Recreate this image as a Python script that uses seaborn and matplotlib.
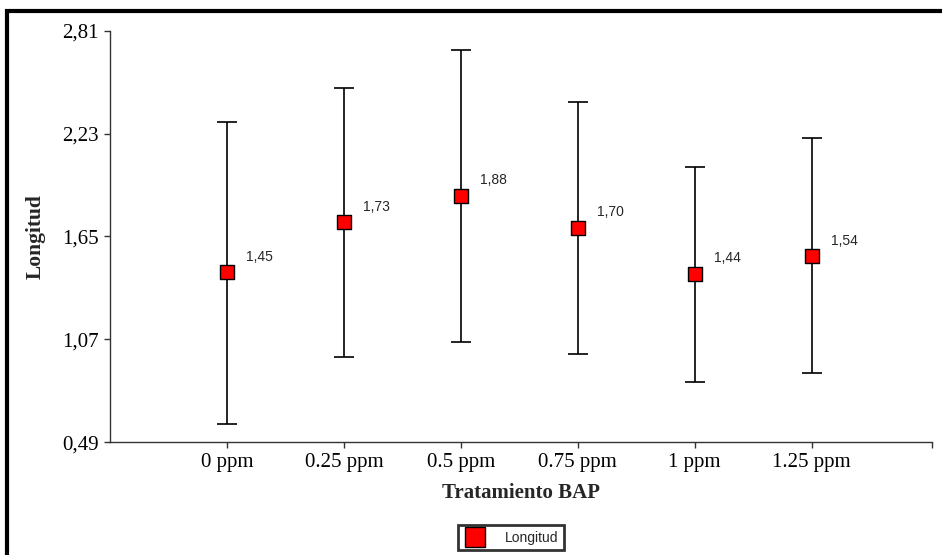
import matplotlib
matplotlib.use("Agg")
import matplotlib.pyplot as plt
import seaborn as sns
import pandas as pd
from matplotlib.patches import Rectangle
from matplotlib.lines import Line2D

categories = ["0 ppm", "0.25 ppm", "0.5 ppm", "0.75 ppm", "1 ppm", "1.25 ppm"]
means = [1.45, 1.73, 1.88, 1.70, 1.44, 1.54]
lower = [0.595, 0.971, 1.055, 0.989, 0.828, 0.882]
upper = [2.295, 2.485, 2.699, 2.406, 2.044, 2.203]
labels = ["1,45", "1,73", "1,88", "1,70", "1,44", "1,54"]
yticks = [0.49, 1.07, 1.65, 2.23, 2.81]
yticklabels = ["0,49", "1,07", "1,65", "2,23", "2,81"]

df = pd.DataFrame({"Tratamiento": categories, "Longitud": means})

sns.set_style("white")
plt.rcParams["font.family"] = ["Liberation Serif", "DejaVu Serif"]

fig = plt.figure(figsize=(9.42, 5.55), dpi=100)
ax = fig.add_axes([110/942, (555-442.3)/555, (932-110)/942, (442.3-30.7)/555])

yerr = [[m - lo for m, lo in zip(means, lower)], [hi - m for m, hi in zip(means, upper)]]
ax.errorbar(range(len(categories)), means, yerr=yerr, fmt="none", ecolor="black",
            elinewidth=1.2, capsize=7, capthick=1.2, zorder=2)
sns.scatterplot(data=df, x="Tratamiento", y="Longitud", marker="s", s=110,
                color="#ff0000", edgecolor="black", linewidth=1.0, ax=ax, zorder=3,
                legend=False)

for i, (m, lab) in enumerate(zip(means, labels)):
    ax.annotate(lab, (i, m), xytext=(14, 11), textcoords="offset points",
                ha="left", va="center", fontsize=10, family=["Liberation Sans"])

ax.set_xlim(-1, 6.03)
ax.set_ylim(0.49, 2.81)
ax.set_xticks(range(len(categories)))
ax.set_xticks([6.03], minor=True)
ax.set_xticklabels(categories, fontsize=15)
ax.set_yticks(yticks)
ax.set_yticklabels(yticklabels, fontsize=15)
ax.tick_params(axis="both", which="both", direction="out", length=4, width=1.0,
               color="#333333", labelcolor="black", pad=4, left=True, bottom=True)
for s in ["top", "right"]:
    ax.spines[s].set_visible(False)
for s in ["left", "bottom"]:
    ax.spines[s].set_color("#333333")
    ax.spines[s].set_linewidth(1.0)

ax.set_xlabel("Tratamiento BAP", fontsize=15, fontweight="bold")
ax.set_ylabel("Longitud", fontsize=15.5, fontweight="bold")
ax.xaxis.set_label_coords(0.5, -(483-442.3)/411.6)
ax.yaxis.set_label_coords((46-110)/822, 0.5)

# outer frame
fig.patches.append(Rectangle((7/942, -0.1), 1.2, (555-11)/555 + 0.1,
                             transform=fig.transFigure, fill=False,
                             edgecolor="black", linewidth=3))

handle = Line2D([], [], marker="s", linestyle="none", markersize=15,
                markerfacecolor="#ff0000", markeredgecolor="black", markeredgewidth=1.0)
leg = fig.legend([handle], ["Longitud"], loc="upper center",
                 bbox_to_anchor=(511/942, (555-525)/555), frameon=True,
                 fancybox=False, edgecolor="black",
                 prop={"family": "Liberation Sans", "size": 10},
                 borderpad=0.4, handlelength=1.6, handletextpad=1.4, borderaxespad=0)
leg.get_frame().set_linewidth(2)

fig.savefig("out.png", dpi=100)
